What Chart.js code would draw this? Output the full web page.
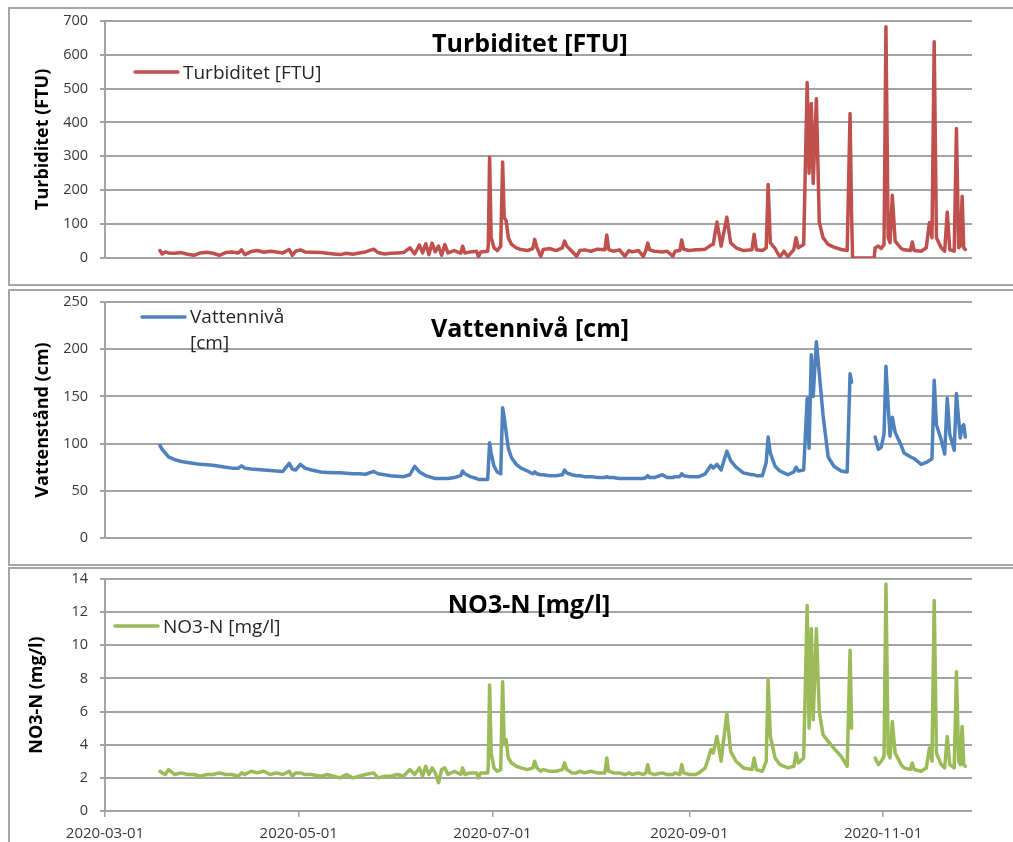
<!DOCTYPE html>
<html>
<head>
<meta charset="utf-8">
<script src="https://cdn.jsdelivr.net/npm/chart.js@4.4.0/dist/chart.umd.min.js"></script>
<style>
html, body { margin: 0; padding: 0; background: #fff; overflow: hidden; }
body { width: 1013px; height: 842px; position: relative; }
.panel { position: absolute; left: 8px; width: 1100px; box-sizing: border-box; border: 2px solid #a6a6a6; border-right: none; }
canvas { position: absolute; left: 0; }
</style>
</head>
<body>
<div class="panel" style="top:7px;height:279px"></div>
<div class="panel" style="top:289px;height:277px"></div>
<div class="panel" style="top:567px;height:300px"></div>
<canvas id="turb" width="1013" height="285" style="top:0"></canvas>
<canvas id="level" width="1013" height="285" style="top:280px"></canvas>
<canvas id="no3" width="1013" height="285" style="top:557px"></canvas>
<script>
// x = days since 2020-03-01
const days = [
  17.3, 18, 19, 20, 22, 24, 26, 28, 30, 32, 34, 36, 38, 40, 42, 43, 44, 46, 48, 50, 52, 54, 56, 58, 59, 60, 61.5, 63, 65, 68, 70, 72, 74, 76, 78, 80, 82, 84.6, 86, 88, 90, 92, 94,
  96, 97.5, 99, 100, 101, 102, 103, 104, 105, 106, 107, 108, 110, 112, 112.6, 113.3, 115, 117, 117.6, 118.3, 120.5,
  120.7, 121.1, 121.6, 122.5, 123.5, 124.6, 125.2, 125.7, 126.3, 127, 128, 129.5, 131, 133,
  134.7, 135.3, 136, 137.2, 138, 140, 142, 144, 144.7, 145.4, 147, 148.5, 149.5, 151, 153, 155, 157.4, 158, 158.6, 160, 162, 163.7, 165, 166, 168, 169.5, 170.3, 170.9, 171.5, 173, 175.5, 177, 178.8, 179.5, 181, 181.6, 182.2, 184, 186,
  187, 189, 190.8, 191.5, 192.7, 194, 195.8, 197, 198.7, 201, 203.7, 204.4, 205.1, 207, 208.2, 208.8, 209.5, 211, 212.5, 213.8, 215, 216.9, 217.6, 218.3, 220,
  221.1, 221.7, 222.4, 223, 224, 224.9, 226.1, 227.7, 229.5, 231.8, 233.7, 234.6, 235.1, 235.4, 238, 240, 242.2, 242.5, 243.5, 244.4,
  245.3, 245.9, 246.6, 247.2, 247.9, 248.8, 250.7, 251.6, 253.6, 254.2, 254.8, 257, 258.6, 259.6, 260.4, 261.1, 261.8, 263.3, 264.4, 265.2, 266, 267.4, 268.1, 268.8, 269.3, 269.9, 270.4, 270.9
];

const turbidity = [
  22, 12, 18, 15, 14, 16, 11, 8, 15, 17, 14, 8, 16, 18, 15, 24, 10, 19, 22, 17, 20, 18, 15, 25, 8, 20, 24, 18, 17, 16, 14, 12, 10, 14, 11, 15, 18, 26, 16, 12, 14, 15, 16,
  30, 12, 38, 15, 42, 10, 44, 18, 35, 8, 40, 15, 22, 14, 35, 15, 18, 20, 4, 18, 20,
  40, 297, 60, 30, 22, 35, 283, 120, 110, 60, 40, 30, 25, 22,
  28, 55, 30, 5, 25, 28, 22, 30, 50, 35, 20, 5, 22, 24, 20, 26, 24, 68, 25, 20, 24, 5, 22, 18, 22, 4, 22, 44, 24, 20, 18, 20, 5, 20, 22, 53, 26, 22, 24,
  24, 26, 38, 40, 106, 35, 120, 45, 30, 22, 24, 70, 24, 22, 30, 217, 45, 28, 3, 20, 4, 25, 60, 30, 40,
  518, 250, 456, 220, 470, 106, 60, 40, 32, 25, 22, 426, 120, 0, 0, 0, 0, 30, 35, 28,
  40, 682, 60, 45, 185, 50, 28, 24, 22, 47, 22, 20, 30, 105, 60, 638, 60, 30, 20, 136, 25, 20, 382, 30, 35, 182, 30, 25
];

const waterLevel = [
  98, 94, 90, 86, 83, 81, 80, 79, 78, 77.5, 77, 76, 75, 74, 74, 76.5, 74, 73, 72.5, 72, 71.5, 71, 70.5, 79, 73, 72, 78, 74, 72, 70, 69.5, 69, 69, 68.5, 68, 68, 67.5, 70.5, 68, 67, 66, 65.5, 65,
  67, 76, 70, 68, 66, 65, 64, 63, 63, 63, 63, 63, 64, 66, 71, 68, 65, 63, 62, 62, 62,
  75, 101, 90, 76, 70, 68, 138, 128, 112, 95, 85, 78, 74, 71,
  68, 70, 68, 67, 67, 66, 66, 67, 72, 69, 67, 66, 66, 65, 65, 64, 64, 65, 64, 64, 63, 63, 63, 63, 63, 63, 64, 66, 64, 64, 67, 64, 64, 65, 65, 68, 66, 65, 65,
  65, 68, 77, 74, 78, 72, 92, 82, 75, 69, 67, 67, 66, 66, 80, 107, 90, 76, 71, 69, 67, 70, 75, 71, 72,
  148, 95, 194, 150, 208, 175, 130, 86, 76, 71, 70, 174, 165, null, null, null, null, 107, 94, 96,
  110, 182, 140, 108, 128, 112, 98, 90, 86, 85, 84, 78, 80, 82, 84, 167, 120, 104, 89, 148, 110, 93, 153, 125, 106, 118, 120, 107
];

const nitrate = [
  2.4, 2.3, 2.2, 2.5, 2.2, 2.3, 2.2, 2.2, 2.1, 2.2, 2.2, 2.3, 2.2, 2.2, 2.1, 2.3, 2.2, 2.4, 2.3, 2.4, 2.2, 2.3, 2.2, 2.4, 2.1, 2.3, 2.3, 2.2, 2.2, 2.1, 2.2, 2.1, 2.0, 2.2, 2.0, 2.1, 2.2, 2.3, 2.0, 2.1, 2.1, 2.2, 2.1,
  2.5, 2.2, 2.6, 2.1, 2.7, 2.2, 2.6, 2.3, 1.7, 2.5, 2.6, 2.2, 2.4, 2.2, 2.6, 2.2, 2.3, 2.3, 2.0, 2.3, 2.3,
  2.8, 7.6, 3.5, 2.6, 2.4, 2.5, 7.8, 4.0, 4.3, 3.2, 2.9, 2.7, 2.6, 2.5,
  2.6, 3.0, 2.6, 2.4, 2.5, 2.4, 2.4, 2.5, 2.9, 2.5, 2.3, 2.3, 2.4, 2.3, 2.4, 2.3, 2.3, 3.2, 2.4, 2.3, 2.3, 2.2, 2.3, 2.2, 2.3, 2.2, 2.3, 2.8, 2.3, 2.2, 2.3, 2.2, 2.2, 2.3, 2.2, 2.8, 2.3, 2.2, 2.2,
  2.3, 2.6, 3.7, 3.5, 4.5, 3.0, 5.9, 3.6, 3.0, 2.6, 2.5, 3.2, 2.5, 2.4, 3.0, 7.9, 4.5, 3.2, 2.8, 2.7, 2.6, 2.7, 3.5, 2.9, 3.2,
  12.4, 5.0, 11.0, 5.5, 11.0, 6.0, 4.6, 4.2, 3.8, 3.3, 2.7, 9.7, 5.0, null, null, null, null, 3.2, 2.8, 3.0,
  3.3, 13.7, 3.5, 3.2, 5.4, 3.5, 2.8, 2.6, 2.5, 2.9, 2.5, 2.4, 2.6, 3.8, 3.0, 12.7, 3.5, 2.8, 2.6, 4.5, 2.8, 2.6, 8.4, 3.0, 2.8, 5.1, 2.8, 2.7
];

const tickDays = [0, 61, 122, 184, 245];
const tickLabels = ['2020-03-01', '2020-05-01', '2020-07-01', '2020-09-01', '2020-11-01'];
const lastDay = 273; // 2020-11-29

const FONT = "'Open Sans', sans-serif";
const GRID = '#a3a3a3';

// title and legend drawn inside the plot area like in the Excel chart
const overlay = {
  id: 'overlay',
  afterDraw(chart, args, o) {
    const ctx = chart.ctx;
    ctx.save();
    ctx.fillStyle = '#000';
    ctx.font = 'bold 25px ' + FONT;
    ctx.textAlign = 'center';
    ctx.textBaseline = 'alphabetic';
    ctx.fillText(o.title, o.titleX, o.titleY);

    ctx.strokeStyle = chart.data.datasets[0].borderColor;
    ctx.lineWidth = 3.5;
    ctx.lineCap = 'round';
    ctx.beginPath();
    ctx.moveTo(o.lineX, o.lineY);
    ctx.lineTo(o.lineX + 43, o.lineY);
    ctx.stroke();

    ctx.fillStyle = '#262626';
    ctx.font = '19px ' + FONT;
    ctx.textAlign = 'left';
    o.legend.forEach((t, i) => ctx.fillText(t, o.textX, o.textY + i * 26));
    ctx.restore();
  }
};

function makeChart(id, cfg) {
  const points = days.map((d, i) => ({ x: d, y: cfg.values[i] }));
  return new Chart(document.getElementById(id), {
    type: 'line',
    data: {
      datasets: [{
        label: cfg.legend.join(' '),
        data: points,
        borderColor: cfg.color,
        borderWidth: 3.5,
        borderJoinStyle: 'round',
        borderCapStyle: 'round',
        pointRadius: 0,
        tension: 0,
        spanGaps: false
      }]
    },
    options: {
      responsive: false,
      animation: false,
      devicePixelRatio: 1,
      layout: { padding: { left: 0, right: 41, top: cfg.top, bottom: cfg.bottom } },
      plugins: {
        legend: { display: false },
        title: { display: false },
        tooltip: { enabled: false },
        overlay: cfg.overlay
      },
      scales: {
        x: {
          type: 'linear',
          min: 0,
          max: lastDay,
          display: cfg.showX,
          afterBuildTicks: s => { s.ticks = tickDays.map(v => ({ value: v })); },
          afterFit: s => { s.height = cfg.showX ? 31 : 0; },
          border: { display: false },
          grid: { drawOnChartArea: false, drawTicks: true, tickLength: 6, color: GRID, lineWidth: 1.5 },
          ticks: {
            autoSkip: false,
            maxRotation: 0,
            padding: 8,
            color: '#383838',
            font: { family: FONT, size: 15 },
            callback: v => tickLabels[tickDays.indexOf(v)]
          }
        },
        y: {
          min: 0,
          max: cfg.yMax,
          afterFit: s => { s.width = 105; },
          border: { color: GRID, width: 2 },
          grid: { color: GRID, lineWidth: 2, tickLength: 5 },
          ticks: { stepSize: cfg.step, padding: 12, color: '#383838', font: { family: FONT, size: 14.5 } },
          title: {
            display: true,
            text: cfg.yTitle,
            color: '#000',
            font: { family: FONT, size: 18, weight: 'bold' },
            padding: { top: cfg.titlePad, bottom: 0 }
          }
        }
      }
    },
    plugins: [overlay]
  });
}

makeChart('turb', {
  values: turbidity, color: '#C0504D', yMax: 700, step: 100,
  yTitle: 'Turbiditet (FTU)', titlePad: 32, top: 20, bottom: 27, showX: false,
  legend: ['Turbiditet [FTU]'],
  overlay: { title: 'Turbiditet [FTU]', titleX: 530, titleY: 52, lineX: 135, lineY: 72, textX: 183, textY: 79, legend: ['Turbiditet [FTU]'] }
});

makeChart('level', {
  values: waterLevel, color: '#4F81BD', yMax: 250, step: 50,
  yTitle: 'Vattenstånd (cm)', titlePad: 32, top: 22, bottom: 27, showX: false,
  legend: ['Vattennivå', '[cm]'],
  overlay: { title: 'Vattennivå [cm]', titleX: 530, titleY: 57, lineX: 142, lineY: 37, textX: 190, textY: 43, legend: ['Vattennivå', '[cm]'] }
});

makeChart('no3', {
  values: nitrate, color: '#9BBB59', yMax: 14, step: 2,
  yTitle: 'NO3-N (mg/l)', titlePad: 26, top: 22, bottom: 0, showX: true,
  legend: ['NO3-N [mg/l]'],
  overlay: { title: 'NO3-N [mg/l]', titleX: 529, titleY: 56, lineX: 115, lineY: 69, textX: 163, textY: 76, legend: ['NO3-N [mg/l]'] }
});
</script>
</body>
</html>
